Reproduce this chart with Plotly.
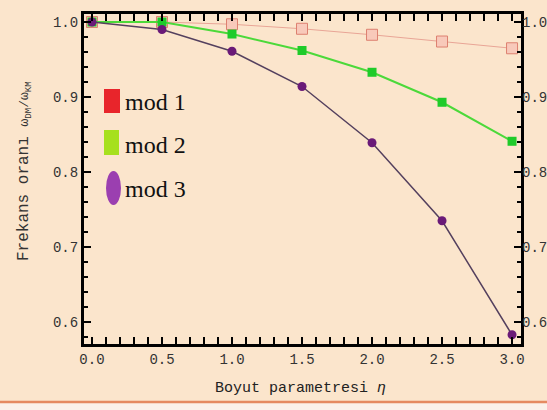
import plotly.graph_objects as go

eta = [0.0, 0.5, 1.0, 1.5, 2.0, 2.5, 3.0]
mod1 = [1.0, 1.0, 0.997, 0.991, 0.983, 0.974, 0.965]
mod2 = [1.0, 1.0, 0.984, 0.962, 0.933, 0.893, 0.841]
mod3 = [1.0, 0.99, 0.961, 0.914, 0.839, 0.735, 0.583]
legend_labels = ["mod 1", "mod 2", "mod 3"]
xticks = [0.0, 0.5, 1.0, 1.5, 2.0, 2.5, 3.0]
yticks = [0.6, 0.7, 0.8, 0.9, 1.0]

BG = "#FBE5CC"
L, R, T, B = 84, 26, 14, 66
W, H = 547, 410
pw, ph = W - L - R, H - T - B

def px(x):
    return (x - L) / pw

def py(y):
    return (H - B - y) / ph

fig = go.Figure()
fig.add_trace(go.Scatter(x=eta, y=mod1, mode="lines+markers",
    line=dict(color="#E9A596", width=1),
    marker=dict(symbol="square", size=11, color="#F8C9BA", line=dict(color="#DD8070", width=1)),
    showlegend=False))
fig.add_trace(go.Scatter(x=eta, y=mod2, mode="lines+markers",
    line=dict(color="#4CD93A", width=2),
    marker=dict(symbol="square", size=9, color="#1FCB2A"),
    showlegend=False))
fig.add_trace(go.Scatter(x=eta, y=mod3, mode="lines+markers",
    line=dict(color="#54405E", width=1.5),
    marker=dict(symbol="circle", size=9, color="#6A1A78"),
    showlegend=False))
# right-side mirrored labels
fig.add_trace(go.Scatter(x=eta, y=mod1, yaxis="y2", mode="markers", opacity=0,
    showlegend=False, hoverinfo="skip"))

MONO = "Liberation Mono, Courier New, monospace"
tickfont = dict(family=MONO, size=14, color="#333")
common = dict(showgrid=False, zeroline=False, showline=True, linecolor="black", linewidth=3,
              ticks="inside", tickcolor="black", tickwidth=2, ticklen=7, tickfont=tickfont,
              automargin=False)

YR = [0.5707, 1.0107]
fig.update_layout(
    width=W, height=H,
    margin=dict(l=L, r=R, t=T, b=B),
    paper_bgcolor=BG, plot_bgcolor=BG,
    xaxis=dict(range=[-0.057, 3.064], tickvals=xticks, ticktext=[f"{v:.1f}" for v in xticks],
               mirror="allticks",
               minor=dict(ticks="inside", dtick=0.1, tick0=0, ticklen=4, tickwidth=2, tickcolor="black"),
               **common),
    yaxis=dict(range=YR, tickvals=yticks, ticktext=[f"{v:.1f}" for v in yticks],
               mirror="allticks",
               minor=dict(ticks="inside", dtick=0.02, tick0=0.6, ticklen=4, tickwidth=2, tickcolor="black"),
               **common),
    yaxis2=dict(range=YR, overlaying="y", side="right", tickvals=yticks,
                ticktext=[f"{v:.1f}" for v in yticks], showgrid=False, zeroline=False,
                showline=False, ticks="", tickfont=tickfont, automargin=False),
    showlegend=False,
)

# axis titles
fig.add_annotation(xref="paper", yref="paper", x=px(300), y=py(388),
                   text="Boyut parametresi <i>η</i>", showarrow=False,
                   xanchor="center", yanchor="middle",
                   font=dict(family=MONO, size=15, color="#222"))
fig.add_annotation(xref="paper", yref="paper", x=px(25), y=py(171), textangle=-90,
                   text="Frekans oranı <span style='font-size:13px'>ω<sub>DM</sub>/ω<sub>KM</sub></span>",
                   showarrow=False, xanchor="center", yanchor="middle",
                   font=dict(family=MONO, size=16, color="#333"))

# manual legend
shapes = [
    dict(type="rect", xref="paper", yref="paper", x0=px(104), x1=px(120), y0=py(113), y1=py(89),
         fillcolor="#E8252B", line=dict(width=0)),
    dict(type="rect", xref="paper", yref="paper", x0=px(104), x1=px(119), y0=py(155), y1=py(130),
         fillcolor="#A6E01E", line=dict(width=0)),
    dict(type="circle", xref="paper", yref="paper", x0=px(106), x1=px(121), y0=py(205), y1=py(171),
         fillcolor="#9B3FB0", line=dict(width=0)),
    dict(type="rect", xref="paper", yref="paper", x0=px(0), x1=px(W), y0=py(410), y1=py(403),
         fillcolor="#FBF1EA", line=dict(width=0)),
    dict(type="line", xref="paper", yref="paper", x0=px(0), x1=px(W), y0=py(402), y1=py(402),
         line=dict(color="#E58A62", width=2.5)),
]
fig.update_layout(shapes=shapes)
for lab, yc in zip(legend_labels, [102, 145, 189]):
    fig.add_annotation(xref="paper", yref="paper", x=px(123), y=py(yc), text=lab,
                       showarrow=False, xanchor="left", yanchor="middle",
                       font=dict(family="Liberation Serif, Times New Roman, serif", size=24, color="#111"))

fig.write_html("out.html", config={"displayModeBar": False},
               post_script="document.body.style.margin='0';document.body.style.background='%s';" % BG)
